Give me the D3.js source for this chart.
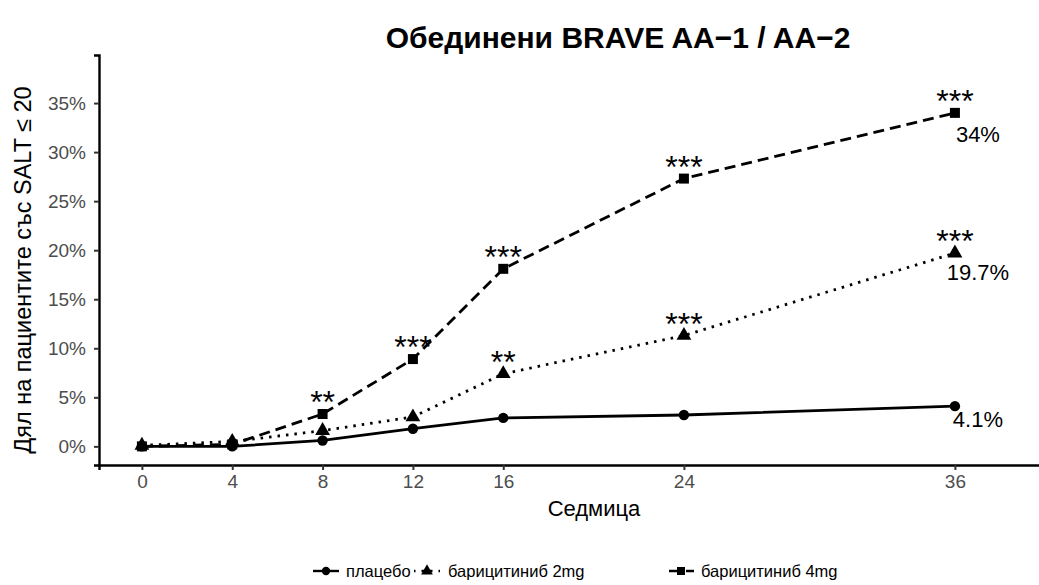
<!DOCTYPE html>
<html>
<head>
<meta charset="utf-8">
<script src="https://cdn.jsdelivr.net/npm/d3@7"></script>
<style>
  body { margin: 0; background: #fff; }
  svg { display: block; font-family: "Liberation Sans", Arial, sans-serif; }
</style>
</head>
<body>
<svg id="chart" width="1039" height="585"></svg>
<script>
// данни
const weeks = [0, 4, 8, 12, 16, 24, 36];
const xTickLabels = ['0', '4', '8', '12', '16', '24', '36'];
const yTicks = [0, 5, 10, 15, 20, 25, 30, 35];

const placebo = [0, 0, 0.6, 1.8, 2.9, 3.2, 4.1];
const bari2 = [0.1, 0.5, 1.6, 3.0, 7.4, 11.3, 19.7];
const bari4 = [0, 0.2, 3.3, 8.9, 18.1, 27.3, 34.0];

const seriesNames = ['плацебо', 'барицитиниб 2mg', 'барицитиниб 4mg'];
const stars2 = ['', '', '', '', '**', '***', '***'];
const stars4 = ['', '', '**', '***', '***', '***', '***'];
const endLabels = ['4.1%', '19.7%', '34%'];

const svg = d3.select('#chart');

const x = d3.scaleLinear().domain([-1.9, 39.9]).range([99, 1043]);
const y = d3.scaleLinear().domain([-1.9, 39.9]).range([465, 55]);

// заглавие
svg.append('text')
  .attr('x', 618).attr('y', 48)
  .attr('text-anchor', 'middle')
  .attr('font-size', 30).attr('font-weight', 'bold')
  .text('Обединени BRAVE AA\u22121 / AA\u22122');

// оси
const xAxis = svg.append('g')
  .attr('transform', 'translate(0,465)')
  .call(d3.axisBottom(x).tickValues(weeks).tickFormat((d, i) => xTickLabels[i]).tickSize(5).tickPadding(5));
const yAxis = svg.append('g')
  .attr('transform', 'translate(99,0)')
  .call(d3.axisLeft(y).tickValues(yTicks).tickFormat(d => d + '%').tickSize(5).tickPadding(8));

[xAxis, yAxis].forEach(g => {
  g.select('.domain').attr('stroke', '#000').attr('stroke-width', 2.4);
  g.selectAll('.tick line').attr('stroke', '#333').attr('stroke-width', 2);
  g.selectAll('.tick text').attr('fill', '#4d4d4d').attr('font-size', 19)
    .attr('font-family', '"Liberation Sans", Arial, sans-serif');
});

// надписи на осите
svg.append('text')
  .attr('x', 594).attr('y', 516)
  .attr('text-anchor', 'middle').attr('font-size', 22)
  .text('Седмица');
svg.append('text')
  .attr('transform', 'translate(31,270) rotate(-90)')
  .attr('text-anchor', 'middle').attr('font-size', 23.5)
  .text('Дял на пациентите със SALT \u2264 20');

// серии
const series = [
  { values: placebo, dash: null, shape: d3.symbolCircle, size: 85, stars: null },
  { values: bari2, dash: '2.5,6', shape: d3.symbolTriangle, size: 95, stars: stars2 },
  { values: bari4, dash: '11,6', shape: d3.symbolSquare, size: 100, stars: stars4 }
];

const line = d3.line().x((d, i) => x(weeks[i])).y(d => y(d));

series.forEach(s => {
  const path = svg.append('path')
    .datum(s.values)
    .attr('fill', 'none')
    .attr('stroke', '#000')
    .attr('stroke-width', 2.8)
    .attr('d', line);
  if (s.dash) path.attr('stroke-dasharray', s.dash);

  svg.append('g').selectAll('path')
    .data(s.values)
    .join('path')
    .attr('transform', (d, i) => `translate(${x(weeks[i])},${y(d)})`)
    .attr('d', d3.symbol().type(s.shape).size(s.size))
    .attr('fill', '#000');

  if (s.stars) {
    svg.append('g').selectAll('text')
      .data(s.values)
      .join('text')
      .attr('x', (d, i) => x(weeks[i]))
      .attr('y', d => y(d) - 1)
      .attr('text-anchor', 'middle')
      .attr('font-size', 32)
      .text((d, i) => s.stars[i]);
  }
});

// крайни стойности
const last = weeks.length - 1;
const labelDy = [21, 27, 29];
[placebo, bari2, bari4].forEach((vals, k) => {
  svg.append('text')
    .attr('x', x(weeks[last]) + 23)
    .attr('y', y(vals[last]) + labelDy[k])
    .attr('text-anchor', 'middle')
    .attr('font-size', 22)
    .text(endLabels[k]);
});

// легенда
const legendItems = [
  { x: 313, tx: 33, dash: null, shape: d3.symbolCircle, size: 55 },
  { x: 414, tx: 34, dash: '2.5,6', shape: d3.symbolTriangle, size: 60 },
  { x: 668, tx: 33, dash: '11,6', shape: d3.symbolSquare, size: 65 }
];
const legend = svg.append('g').attr('transform', 'translate(0,571)');
legendItems.forEach((it, i) => {
  const g = legend.append('g').attr('transform', `translate(${it.x},0)`);
  const l = g.append('line').attr('x1', 0).attr('x2', 26).attr('y1', 0).attr('y2', 0)
    .attr('stroke', '#000').attr('stroke-width', 2.4);
  if (it.dash) l.attr('stroke-dasharray', it.dash).attr('stroke-dashoffset', it.dash === '11,6' ? -1 : 1);
  g.append('path').attr('transform', 'translate(13,0)')
    .attr('d', d3.symbol().type(it.shape).size(it.size)).attr('fill', '#000');
  g.append('text').attr('x', it.tx).attr('y', 6).attr('font-size', 16.5).attr('fill', '#000')
    .text(seriesNames[i]);
});
</script>
</body>
</html>
